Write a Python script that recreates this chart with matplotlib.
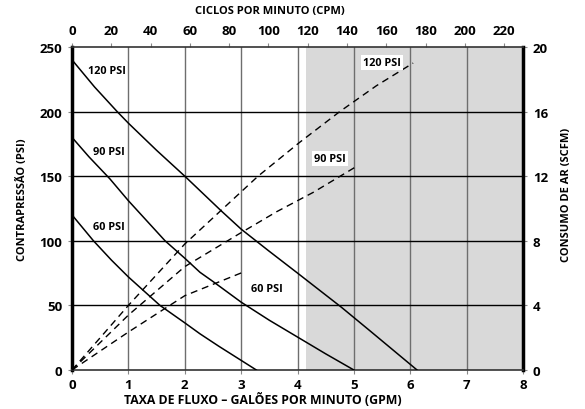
import matplotlib
matplotlib.use("Agg")
import matplotlib.pyplot as plt

plt.rcParams['font.family'] = ['Open Sans', 'DejaVu Sans']
plt.rcParams['font.weight'] = 'bold'

# backpressure curves (GPM, PSI)
gpm_120 = [0, 0.4, 0.8, 1.0, 1.5, 2.0, 2.65, 3.0, 3.48, 4.0, 4.78, 5.28, 6.12]
psi_120 = [240, 219, 200, 191, 170, 150, 123, 109, 92.5, 75, 48.5, 30.5, 0]
gpm_90 = [0, 0.3, 0.67, 1.0, 1.65, 2.0, 2.27, 2.5, 3.0, 3.5, 4.0, 4.5, 5.0]
psi_90 = [180, 165, 148, 131, 100, 86.5, 75.6, 68.5, 52.5, 38.5, 25.5, 12.5, 0]
gpm_60 = [0, 0.38, 0.7, 1.0, 1.56, 2.0, 2.27, 2.6, 3.27]
psi_60 = [120, 100, 85, 72, 50, 36.5, 28, 18.5, 0]

# air consumption curves (GPM, SCFM)
air_gpm_120 = [0, 1.0, 2.0, 2.65, 3.3, 4.04, 4.75, 5.4, 6.05]
air_scfm_120 = [0, 4.0, 7.8, 9.9, 12.0, 14.1, 16.0, 17.6, 19.0]
air_gpm_90 = [0, 1.0, 2.0, 2.95, 3.63, 4.28, 5.02]
air_scfm_90 = [0, 3.4, 6.4, 8.4, 9.8, 11.0, 12.55]
air_gpm_60 = [0, 1.0, 2.0, 3.03]
air_scfm_60 = [0, 2.35, 4.6, 6.05]

gpm_ticks = [0, 1, 2, 3, 4, 5, 6, 7, 8]
psi_ticks = [0, 50, 100, 150, 200, 250]
cpm_ticks = [0, 20, 40, 60, 80, 100, 120, 140, 160, 180, 200, 220]
scfm_ticks = [0, 4, 8, 12, 16, 20]

cpm_per_gpm = 28.7
psi_per_scfm = 12.5
shade_start = 4.15

fig = plt.figure(figsize=(5.85, 4.1), dpi=100)
ax = fig.add_axes([0.1231, 0.0951, 0.771, 0.788])
ax.set_xlim(0, 8)
ax.set_ylim(0, 250)

ax.axvspan(shade_start, 8, color='#d9d9d9', lw=0, zorder=0)
for g in gpm_ticks[1:-1]:
    ax.axvline(g, color='#6e6e6e', lw=1.0, zorder=1)
for p in psi_ticks[1:-1]:
    ax.axhline(p, color='black', lw=1.0, zorder=1)

ax.plot(gpm_120, psi_120, color='black', lw=1.1, zorder=3)
ax.plot(gpm_90, psi_90, color='black', lw=1.1, zorder=3)
ax.plot(gpm_60, psi_60, color='black', lw=1.1, zorder=3)

for g, s in [(air_gpm_120, air_scfm_120), (air_gpm_90, air_scfm_90), (air_gpm_60, air_scfm_60)]:
    ax.plot(g, [v * psi_per_scfm for v in s], color='black', lw=1.0,
            dashes=(5, 3.5), zorder=3)

lbl = dict(fontsize=7.8, fontweight='bold', ha='center', va='center', zorder=4)
box = dict(facecolor='white', edgecolor='none', pad=1.5)
ax.text(0.62, 232, '120 PSI', **lbl)
ax.text(0.66, 169, '90 PSI', **lbl)
ax.text(0.66, 111, '60 PSI', **lbl)
ax.text(3.45, 63, '60 PSI', **lbl)
ax.text(4.57, 164, '90 PSI', bbox=box, **lbl)
ax.text(5.5, 238, '120 PSI', bbox=box, **lbl)

tick_kw = dict(labelsize=9.5, length=3, width=0.8, color='#888888')
ax.set_xticks(gpm_ticks)
ax.set_yticks(psi_ticks)
ax.tick_params(axis='x', pad=3, **tick_kw)
ax.tick_params(axis='y', pad=4, **tick_kw)
for lab in ax.get_xticklabels() + ax.get_yticklabels():
    lab.set_fontweight('bold')

ax.spines['left'].set_linewidth(2.5)
ax.spines['right'].set_linewidth(2.5)
ax.spines['top'].set_linewidth(1.2)
ax.spines['bottom'].set_linewidth(1.2)
ax.spines['top'].set_color('#333333')
ax.spines['bottom'].set_color('#333333')

top = ax.secondary_xaxis('top', functions=(lambda x: x * cpm_per_gpm, lambda c: c / cpm_per_gpm))
top.set_xticks(cpm_ticks)
top.tick_params(pad=4, **tick_kw)
for lab in top.get_xticklabels():
    lab.set_fontweight('bold')
top.spines['top'].set_visible(False)

right = ax.secondary_yaxis('right', functions=(lambda p: p / psi_per_scfm, lambda s: s * psi_per_scfm))
right.set_yticks(scfm_ticks)
right.tick_params(pad=4, **tick_kw)
for lab in right.get_yticklabels():
    lab.set_fontweight('bold')
right.spines['right'].set_visible(False)

# axis titles placed in figure coordinates
title_kw = dict(fontweight='bold', ha='center', va='center')
fig.text(0.4496, 0.0244, 'TAXA DE FLUXO – GALÕES POR MINUTO (GPM)', fontsize=8.8, **title_kw)
fig.text(0.4615, 0.971, 'CICLOS POR MINUTO (CPM)', fontsize=8, **title_kw)
fig.text(0.039, 0.512, 'CONTRAPRESSÃO (PSI)', rotation=90, fontsize=8, **title_kw)
fig.text(0.969, 0.524, 'CONSUMO DE AR (SCFM)', rotation=90, fontsize=8, **title_kw)

fig.savefig('out.png', dpi=100)
